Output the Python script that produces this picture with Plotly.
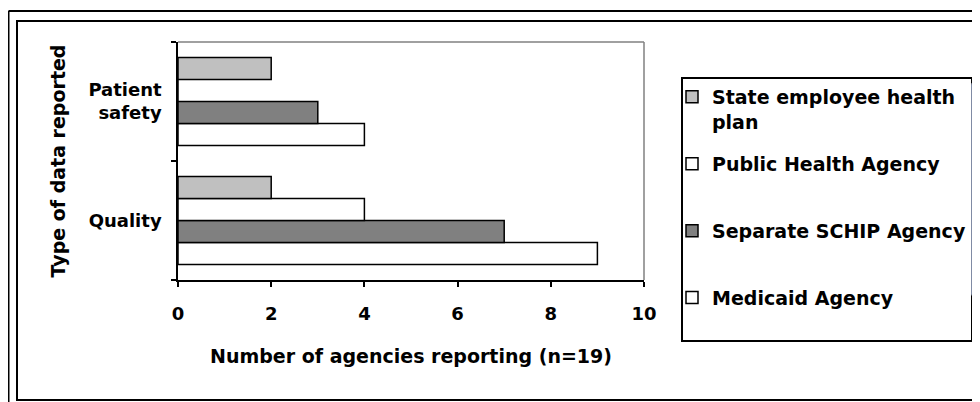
import plotly.graph_objects as go

categories = ["Quality", "Patient safety"]
category_labels = ["Quality", "Patient<br>safety"]

series_names = ["Medicaid Agency", "Separate SCHIP Agency", "Public Health Agency", "State employee health plan"]
legend_labels = ["Medicaid Agency<br> ", "Separate SCHIP Agency<br> ", "Public Health Agency<br> ", "State employee health<br>plan"]
legend_ranks = [4, 3, 2, 1]
medicaid = [9, 4]
schip = [7, 3]
public_health = [4, 0]
state_employee = [2, 2]
series_values = [medicaid, schip, public_health, state_employee]
series_colors = ["#FFFFFF", "#808080", "#FFFFFF", "#C0C0C0"]

x_ticks = [0, 2, 4, 6, 8, 10]

FONT = "DejaVu Sans"
FS_TICK = 18
FS_TXT = 19

# page body has an 8px margin: figure-local coords = page coords - 8
OFF = 8
W, H = 972, 394
L, R, T, B = 170, 336, 34, 122
PW, PH = W - L - R, H - T - B


def px(x):
    return (x - OFF - L) / PW


def py(y):
    return (H - B - (y - OFF)) / PH


fig = go.Figure()
for name, lab, vals, col, rk in zip(series_names, legend_labels, series_values, series_colors, legend_ranks):
    fig.add_trace(go.Bar(
        y=categories, x=vals, orientation="h", name=lab, legendgroup=name, legendrank=rk,
        marker=dict(color=col, line=dict(color="black", width=1.5)),
        hovertemplate=name + ": %{x}<extra></extra>",
    ))

shapes = [
    # gray top/right plot border
    dict(type="line", xref="paper", yref="paper", x0=0, x1=1, y0=1, y1=1, line=dict(color="#808080", width=1.5)),
    dict(type="line", xref="paper", yref="paper", x0=1, x1=1, y0=0, y1=1, line=dict(color="#808080", width=1.5)),
    # inner chart frame
    dict(type="rect", xref="paper", yref="paper", x0=px(17), x1=px(978.5), y0=py(400), y1=py(21),
         line=dict(color="black", width=2), layer="below"),
    # outer page frame lines
    dict(type="line", xref="paper", yref="paper", x0=px(8.5), x1=px(985), y0=py(11), y1=py(11), line=dict(color="black", width=2)),
    dict(type="line", xref="paper", yref="paper", x0=px(8.5), x1=px(8.5), y0=py(11), y1=py(410), line=dict(color="black", width=2)),
    # legend box
    dict(type="rect", xref="paper", yref="paper", x0=px(682), x1=px(972), y0=py(341), y1=py(78),
         line=dict(color="black", width=2)),
]

fig.update_layout(
    width=W, height=H,
    margin=dict(l=L, r=R, t=T, b=B, autoexpand=False),
    paper_bgcolor="white", plot_bgcolor="white",
    font=dict(family=FONT, size=FS_TICK, color="black", weight="bold"),
    barmode="group", bargap=0.26, bargroupgap=0,
    showlegend=True,
    legend=dict(
        x=px(672), y=py(78), xanchor="left", yanchor="top",
        borderwidth=0, bgcolor="rgba(0,0,0,0)",
        traceorder="grouped", tracegroupgap=14.5, valign="top",
        font=dict(family=FONT, size=FS_TXT, color="black", weight="bold"),
    ),
    xaxis=dict(
        range=[0, 10], tickvals=x_ticks, ticktext=[str(v) for v in x_ticks],
        showgrid=False, zeroline=False, showline=True, linecolor="black", linewidth=1.5,
        ticks="outside", ticklen=5, tickcolor="black", tickwidth=1.5,
        ticklabelstandoff=12,
        tickfont=dict(family=FONT, size=FS_TICK, color="black", weight="bold"),
        title=dict(text="Number of agencies reporting (n=19)", standoff=26,
                   font=dict(family=FONT, size=FS_TXT, color="black", weight="bold")),
    ),
    yaxis=dict(
        type="category", categoryorder="array", categoryarray=categories,
        tickvals=categories, ticktext=category_labels,
        range=[-0.5, 1.5], tickson="boundaries",
        showgrid=False, zeroline=False, showline=True, linecolor="black", linewidth=1.5,
        ticks="outside", ticklen=5, tickcolor="black", tickwidth=1.5,
        ticklabelstandoff=11,
        tickfont=dict(family=FONT, size=FS_TICK, color="black", weight="bold"),
        title=dict(text="Type of data reported", standoff=18,
                   font=dict(family=FONT, size=FS_TXT, color="black", weight="bold")),
    ),
    shapes=shapes,
)

fig.write_html("out.html")
